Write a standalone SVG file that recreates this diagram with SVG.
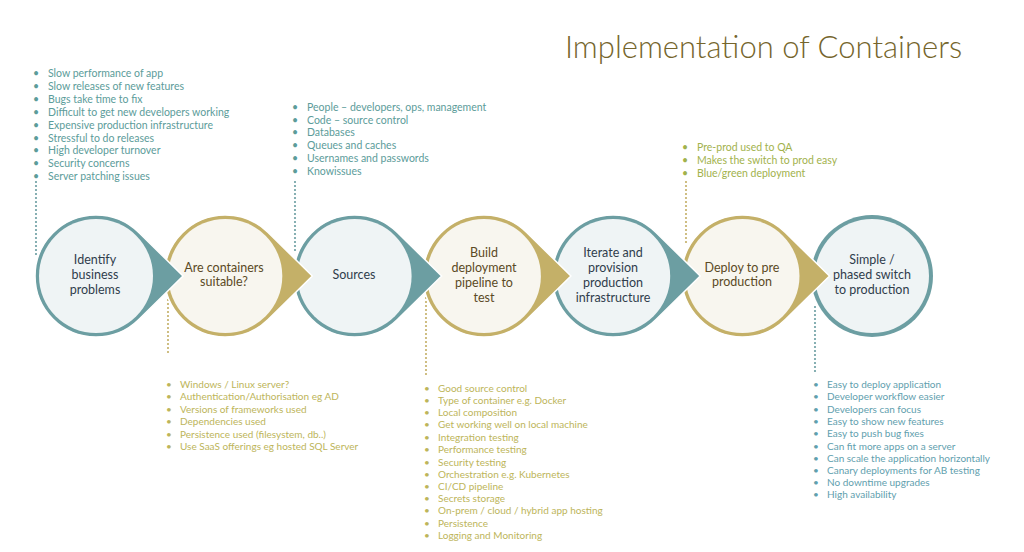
<svg xmlns="http://www.w3.org/2000/svg" width="1024" height="552" viewBox="0 0 1024 552">
<defs>
<style>
.title{font-family:Lato,"Open Sans",sans-serif;font-weight:300;font-size:31px;fill:#75652c}
.lbl{font-family:Lato,"Open Sans",sans-serif;font-size:12.5px;text-anchor:middle}
.lt{fill:#2f3d4c}
.lg{fill:#5b4a25}
.tealS{fill:#6c9ea2;stroke:#fff;stroke-width:1.5}
.goldS{fill:#c4b068;stroke:#fff;stroke-width:1.5}
.tealIn{fill:#eff4f5}
.goldIn{fill:#f8f6ef}
.li{font-family:Lato,"Open Sans",sans-serif;font-size:10.5px}
.lis{font-family:Lato,"Open Sans",sans-serif;font-size:10px}
.c1{fill:#5c9c9a}
.c2{fill:#a2b24c}
.c3{fill:#bdb55a}
.c4{fill:#5fa0ae}
.dotT{stroke:#6c9ea2;stroke-width:2.2;stroke-linecap:round;stroke-dasharray:0 4;fill:none}
.dotG{stroke:#c4b068;stroke-width:2.2;stroke-linecap:round;stroke-dasharray:0 4;fill:none}
</style>
</defs>
<rect width="1024" height="552" fill="#fff"/>
<text class="title" x="565" y="58">Implementation of Containers</text>

<g id="connectors">
<line class="dotT" x1="36" y1="182" x2="36" y2="256"/>
<line class="dotT" x1="295" y1="182" x2="295" y2="254"/>
<line class="dotG" x1="686" y1="182" x2="686" y2="243"/>
<line class="dotG" x1="168" y1="300" x2="168" y2="356"/>
<line class="dotG" x1="426" y1="298" x2="426" y2="378"/>
<line class="dotT" x1="815" y1="307" x2="815" y2="372"/>
</g>

<g id="n7">
<circle cx="872" cy="276" r="61" fill="#6c9ea2"/>
<circle class="tealIn" cx="872" cy="276" r="57"/>
<text class="lbl lt" x="872"><tspan x="872" y="264">Simple /</tspan><tspan x="872" y="279">phased switch</tspan><tspan x="872" y="294">to production</tspan></text>
</g>
<g id="n6">
<path class="goldS" d="M829.5 276 L785.3 232.5 A61 61 0 1 0 785.3 319.5 Z"/>
<circle class="goldIn" cx="742.5" cy="276" r="57"/>
<text class="lbl lg" x="742"><tspan x="742" y="272">Deploy to pre</tspan><tspan x="742" y="286">production</tspan></text>
</g>
<g id="n5">
<path class="tealS" d="M700.2 276 L656 232.5 A61 61 0 1 0 656 319.5 Z"/>
<circle class="tealIn" cx="613.2" cy="276" r="57"/>
<text class="lbl lt"><tspan x="613" y="257">Iterate and</tspan><tspan x="613" y="272">provision</tspan><tspan x="613" y="287">production</tspan><tspan x="613" y="302">infrastructure</tspan></text>
</g>
<g id="n4">
<path class="goldS" d="M570.9 276 L526.7 232.5 A61 61 0 1 0 526.7 319.5 Z"/>
<circle class="goldIn" cx="483.9" cy="276" r="57"/>
<text class="lbl lg"><tspan x="484" y="257">Build</tspan><tspan x="484" y="272">deployment</tspan><tspan x="484" y="287">pipeline to</tspan><tspan x="484" y="302">test</tspan></text>
</g>
<g id="n3">
<path class="tealS" d="M441.6 276 L397.4 232.5 A61 61 0 1 0 397.4 319.5 Z"/>
<circle class="tealIn" cx="354.6" cy="276" r="57"/>
<text class="lbl lt"><tspan x="354" y="279">Sources</tspan></text>
</g>
<g id="n2">
<path class="goldS" d="M312.3 276 L268.1 232.5 A61 61 0 1 0 268.1 319.5 Z"/>
<circle class="goldIn" cx="225.3" cy="276" r="57"/>
<text class="lbl lg"><tspan x="224" y="272">Are containers</tspan><tspan x="224" y="286">suitable?</tspan></text>
</g>
<g id="n1">
<path class="tealS" d="M183 276 L138.8 232.5 A61 61 0 1 0 138.8 319.5 Z"/>
<circle class="tealIn" cx="96" cy="276" r="57"/>
<text class="lbl lt"><tspan x="95" y="264">Identify</tspan><tspan x="95" y="279">business</tspan><tspan x="95" y="294">problems</tspan></text>
</g>

<g id="list-problems" class="li c1">
<text x="33" y="76.5">•</text><text x="48" y="76.5">Slow performance of app</text>
<text x="33" y="89.5">•</text><text x="48" y="89.5">Slow releases of new features</text>
<text x="33" y="102.5">•</text><text x="48" y="102.5">Bugs take time to fix</text>
<text x="33" y="115.5">•</text><text x="48" y="115.5">Difficult to get new developers working</text>
<text x="33" y="128.5">•</text><text x="48" y="128.5">Expensive production infrastructure</text>
<text x="33" y="141.5">•</text><text x="48" y="141.5">Stressful to do releases</text>
<text x="33" y="154">•</text><text x="48" y="154">High developer turnover</text>
<text x="33" y="167">•</text><text x="48" y="167">Security concerns</text>
<text x="33" y="180">•</text><text x="48" y="180">Server patching issues</text>
</g>

<g id="list-sources" class="li c1">
<text x="292" y="110.5">•</text><text x="307" y="110.5">People – developers, ops, management</text>
<text x="292" y="123.5">•</text><text x="307" y="123.5">Code – source control</text>
<text x="292" y="135.5">•</text><text x="307" y="135.5">Databases</text>
<text x="292" y="148.5">•</text><text x="307" y="148.5">Queues and caches</text>
<text x="292" y="161.5">•</text><text x="307" y="161.5">Usernames and passwords</text>
<text x="292" y="174.5">•</text><text x="307" y="174.5">Knowissues</text>
</g>

<g id="list-preprod" class="li c2">
<text x="682" y="150.5">•</text><text x="697" y="150.5">Pre-prod used to QA</text>
<text x="682" y="163.5">•</text><text x="697" y="163.5">Makes the switch to prod easy</text>
<text x="682" y="176.5">•</text><text x="697" y="176.5">Blue/green deployment</text>
</g>

<g id="list-suitable" class="lis c3">
<text x="166" y="387.5">•</text><text x="180" y="387.5">Windows / Linux server?</text>
<text x="166" y="400">•</text><text x="180" y="400">Authentication/Authorisation  eg AD</text>
<text x="166" y="412.5">•</text><text x="180" y="412.5">Versions of frameworks used</text>
<text x="166" y="424.5">•</text><text x="180" y="424.5">Dependencies used</text>
<text x="166" y="437.5">•</text><text x="180" y="437.5">Persistence used (filesystem, db..)</text>
<text x="166" y="449.5">•</text><text x="180" y="449.5">Use SaaS offerings eg hosted SQL Server</text>
</g>

<g id="list-build" class="lis c3">
<text x="424" y="391.5">•</text><text x="438" y="391.5">Good source control</text>
<text x="424" y="403.5">•</text><text x="438" y="403.5">Type of container e.g. Docker</text>
<text x="424" y="415.5">•</text><text x="438" y="415.5">Local composition</text>
<text x="424" y="427.5">•</text><text x="438" y="427.5">Get working well on local machine</text>
<text x="424" y="440.5">•</text><text x="438" y="440.5">Integration testing</text>
<text x="424" y="452.5">•</text><text x="438" y="452.5">Performance testing</text>
<text x="424" y="465.5">•</text><text x="438" y="465.5">Security testing</text>
<text x="424" y="477.5">•</text><text x="438" y="477.5">Orchestration e.g. Kubernetes</text>
<text x="424" y="489.5">•</text><text x="438" y="489.5">CI/CD pipeline</text>
<text x="424" y="501.5">•</text><text x="438" y="501.5">Secrets storage</text>
<text x="424" y="513.5">•</text><text x="438" y="513.5">On-prem / cloud  / hybrid app hosting</text>
<text x="424" y="526.5">•</text><text x="438" y="526.5">Persistence</text>
<text x="424" y="538.5">•</text><text x="438" y="538.5">Logging and Monitoring</text>
</g>

<g id="list-benefits" class="lis c4">
<text x="813" y="387.5">•</text><text x="827" y="387.5">Easy to deploy application</text>
<text x="813" y="399.5">•</text><text x="827" y="399.5">Developer workflow easier</text>
<text x="813" y="412.5">•</text><text x="827" y="412.5">Developers can focus</text>
<text x="813" y="424.5">•</text><text x="827" y="424.5">Easy to show new features</text>
<text x="813" y="436.5">•</text><text x="827" y="436.5">Easy to push bug fixes</text>
<text x="813" y="449.5">•</text><text x="827" y="449.5">Can fit more apps on a server</text>
<text x="813" y="461.5">•</text><text x="827" y="461.5">Can scale the application horizontally</text>
<text x="813" y="473.5">•</text><text x="827" y="473.5">Canary deployments for AB testing</text>
<text x="813" y="485.5">•</text><text x="827" y="485.5">No downtime upgrades</text>
<text x="813" y="497.5">•</text><text x="827" y="497.5">High availability</text>
</g>
</svg>
